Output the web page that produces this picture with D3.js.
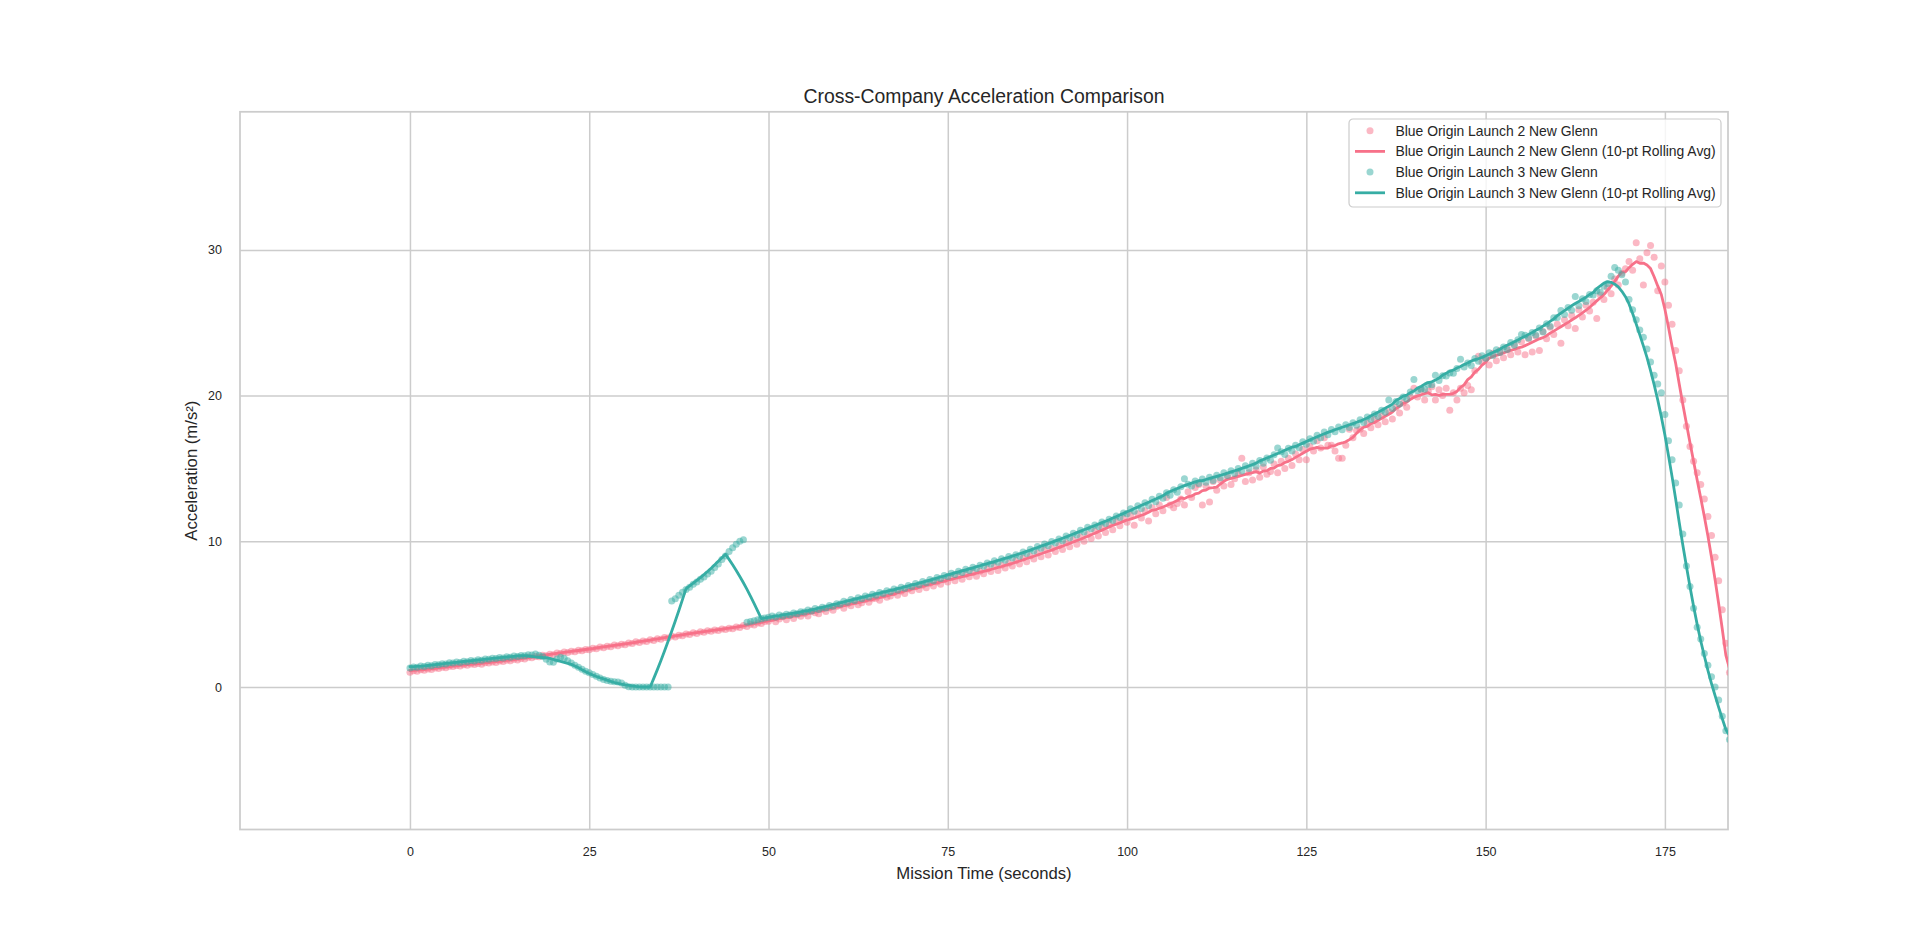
<!DOCTYPE html>
<html>
<head>
<meta charset="utf-8">
<script src="https://cdn.jsdelivr.net/npm/d3@7"></script>
<style>
  body { margin: 0; background: #fff; }
  svg text { font-family: "Liberation Sans", Arial, sans-serif; fill: #262626; }
</style>
</head>
<body>
<svg id="chart"></svg>
<script>
// both telemetry feeds are sampled every half second, starting at t = 0
const sampleStep = 0.5;

// Blue Origin Launch 2 New Glenn, acceleration (m/s²)
const launch2Accel = [
  1.02, 1.12, 1.08, 1.18, 1.15, 1.24, 1.20, 1.30, 1.27, 1.35,
  1.33, 1.42, 1.40, 1.47, 1.44, 1.52, 1.49, 1.58, 1.55, 1.62,
  1.57, 1.66, 1.64, 1.72, 1.69, 1.78, 1.75, 1.84, 1.80, 1.90,
  1.86, 1.95, 1.93, 2.04, 2.00, 2.10, 2.07, 2.18, 2.14, 2.25,
  2.22, 2.33, 2.30, 2.40, 2.36, 2.46, 2.42, 2.52, 2.49, 2.58,
  2.55, 2.66, 2.62, 2.74, 2.70, 2.80, 2.76, 2.88, 2.84, 2.94,
  2.90, 3.02, 2.98, 3.10, 3.05, 3.16, 3.12, 3.25, 3.20, 3.32,
  3.28, 3.40, 3.36, 3.50, 3.44, 3.56, 3.52, 3.64, 3.60, 3.72,
  3.68, 3.80, 3.76, 3.86, 3.82, 3.92, 3.88, 3.98, 3.95, 4.04,
  4.00, 4.12, 4.08, 4.22, 4.16, 4.30, 4.26, 4.40, 4.36, 4.50,
  4.52, 4.70, 4.48, 4.66, 4.82, 4.62, 4.90, 4.70, 4.96, 4.86,
  5.04, 4.88, 5.20, 5.10, 5.02, 5.34, 5.18, 5.44, 5.26, 5.52,
  5.62, 5.40, 5.70, 5.58, 5.86, 5.64, 5.78, 6.00, 5.82, 6.06,
  6.10, 5.96, 6.30, 6.16, 6.24, 6.48, 6.30, 6.58, 6.42, 6.72,
  6.60, 6.88, 6.70, 6.98, 6.82, 7.12, 6.94, 7.20, 7.06, 7.36,
  7.20, 7.52, 7.30, 7.62, 7.40, 7.74, 7.56, 7.86, 7.60, 7.94,
  7.78, 8.10, 7.92, 8.28, 8.00, 8.36, 8.16, 8.50, 8.30, 8.66,
  8.44, 8.86, 8.60, 9.00, 8.78, 9.20, 8.94, 9.40, 9.06, 9.50,
  9.30, 9.70, 9.44, 9.90, 9.62, 10.10, 9.80, 10.30, 10.00, 10.46,
  10.20, 10.70, 10.36, 10.96, 10.60, 11.16, 10.80, 11.40, 11.06, 11.56,
  11.30, 11.80, 11.10, 11.90, 11.60, 12.10, 11.40, 12.30, 11.90, 12.50,
  12.10, 13.00, 12.50, 12.30, 12.60, 12.90, 12.50, 13.40, 13.00, 13.70,
  13.90, 12.50, 13.80, 12.70, 14.10, 13.50, 14.20, 13.80, 14.40, 13.90,
  14.30, 14.60, 15.70, 14.10, 14.70, 14.20, 14.90, 14.40, 15.10, 14.60,
  14.80, 15.30, 14.70, 15.50, 15.00, 15.70, 15.20, 16.00, 15.60, 16.30,
  15.60, 16.50, 16.20, 16.90, 16.40, 17.10, 16.60, 16.60, 16.20, 15.70,
  15.70, 16.60, 17.70, 17.10, 17.60, 17.70, 17.40, 18.10, 17.80, 18.40,
  18.00, 18.60, 18.20, 18.90, 18.40, 19.20, 18.80, 19.50, 19.20, 19.90,
  20.50, 19.90, 20.40, 19.70, 20.30, 20.60, 19.70, 20.40, 20.00, 20.50,
  19.00, 20.20, 19.70, 20.50, 20.20, 20.70, 20.40, 21.70, 22.70, 22.30,
  22.60, 22.10, 22.90, 22.40, 23.10, 22.60, 23.30, 22.80, 23.50, 23.00,
  23.70, 22.80, 23.90, 23.00, 24.10, 23.10, 24.40, 23.90, 24.70, 24.20,
  24.90, 23.60, 25.20, 24.80, 25.50, 24.60, 25.90, 25.40, 26.20, 25.80,
  26.40, 25.30, 26.90, 26.60, 27.40, 27.00, 28.00, 27.60, 28.40, 28.70,
  29.20, 28.60, 30.50, 29.40, 27.60, 29.80, 30.30, 29.50, 27.20, 28.90,
  27.80, 26.20, 24.90, 23.10, 21.70, 19.70, 17.90, 16.50, 15.50, 14.70,
  13.90, 12.90, 11.70, 10.40, 8.90, 7.30, 5.30, 3.00, 1.00, -0.80,
  -2.60, -4.40, -6.20
];

// Blue Origin Launch 3 New Glenn, acceleration (m/s²)
const launch3Accel = [
  1.30, 1.38, 1.35, 1.44, 1.40, 1.50, 1.46, 1.54, 1.52, 1.60,
  1.58, 1.66, 1.64, 1.72, 1.69, 1.76, 1.73, 1.82, 1.78, 1.87,
  1.84, 1.92, 1.90, 1.98, 1.95, 2.02, 1.99, 2.08, 2.05, 2.12,
  2.10, 2.16, 2.14, 2.22, 2.20, 2.26, 2.18, 2.10, 1.90, 1.72,
  1.70, 1.92, 2.04, 1.98, 1.80, 1.64, 1.50, 1.36, 1.22, 1.08,
  0.98, 0.86, 0.74, 0.62, 0.52, 0.44, 0.40, 0.36, 0.34, 0.28,
  0.12, 0.02, 0.00, 0.00, 0.00, 0.00, 0.00, 0.00, 0.00, 0.00,
  0.00, 0.00, 0.00, 5.90, 6.05, 6.30, 6.50, 6.70, 6.85, 7.05,
  7.20, 7.40, 7.55, 7.75, 7.95, 8.20, 8.45, 8.75, 9.00, 9.30,
  9.55, 9.80, 10.00, 10.10, 4.45, 4.50, 4.55, 4.62, 4.68, 4.74,
  4.78, 4.88, 4.80, 4.94, 4.88, 5.00, 4.94, 5.08, 5.02, 5.16,
  5.14, 5.28, 5.22, 5.38, 5.32, 5.48, 5.42, 5.60, 5.54, 5.72,
  5.70, 5.88, 5.82, 6.00, 5.94, 6.12, 6.06, 6.24, 6.18, 6.36,
  6.30, 6.48, 6.42, 6.60, 6.54, 6.72, 6.66, 6.84, 6.78, 6.96,
  6.90, 7.10, 7.02, 7.24, 7.16, 7.38, 7.30, 7.52, 7.44, 7.66,
  7.58, 7.80, 7.72, 7.94, 7.86, 8.08, 8.00, 8.22, 8.14, 8.36,
  8.28, 8.52, 8.42, 8.66, 8.56, 8.80, 8.70, 8.96, 8.86, 9.08,
  8.98, 9.26, 9.16, 9.46, 9.34, 9.64, 9.52, 9.82, 9.70, 9.98,
  9.88, 10.16, 10.04, 10.36, 10.24, 10.56, 10.44, 10.76, 10.64, 10.96,
  10.86, 11.12, 11.02, 11.32, 11.22, 11.52, 11.42, 11.74, 11.64, 11.94,
  11.90, 12.24, 12.06, 12.44, 12.26, 12.64, 12.46, 12.88, 12.72, 13.10,
  12.96, 13.34, 13.16, 13.54, 13.36, 13.74, 14.30, 13.92, 13.80, 14.14,
  13.96, 14.28, 14.06, 14.40, 14.18, 14.54, 14.36, 14.70, 14.52, 14.84,
  14.66, 15.00, 14.82, 15.18, 15.00, 15.36, 15.16, 15.54, 15.36, 15.72,
  15.56, 15.94, 16.40, 16.14, 15.96, 16.38, 16.20, 16.60, 16.42, 16.84,
  16.66, 17.04, 16.86, 17.28, 17.10, 17.50, 17.32, 17.68, 17.52, 17.84,
  17.66, 18.00, 17.82, 18.14, 17.96, 18.34, 18.16, 18.54, 18.36, 18.74,
  18.56, 19.00, 18.86, 19.70, 19.12, 19.60, 19.42, 19.90, 19.76, 20.24,
  21.10, 20.34, 20.46, 20.44, 20.76, 20.74, 21.40, 21.04, 21.36, 21.34,
  21.56, 21.54, 21.86, 22.50, 21.96, 22.24, 22.06, 22.54, 22.36, 22.74,
  22.56, 22.94, 22.76, 23.14, 22.96, 23.34, 23.16, 23.64, 23.46, 23.84,
  24.20, 24.14, 23.96, 24.34, 24.16, 24.64, 24.36, 24.94, 24.76, 25.34,
  25.36, 25.84, 25.56, 26.04, 25.86, 26.80, 26.16, 26.64, 26.46, 26.94,
  26.90, 27.20, 27.10, 27.50, 27.70, 28.20, 28.80, 28.60, 28.30, 27.80,
  26.60, 25.90, 25.20, 24.50, 24.00, 23.20, 22.30, 21.40, 20.80, 20.20,
  18.70, 16.90, 15.60, 14.00, 12.50, 10.50, 8.30, 6.90, 5.40, 4.10,
  3.30, 2.30, 1.50, 0.70, 0.00, -0.90, -2.00, -3.00, -3.60, -4.20,
  -4.80, -5.40, -6.00
];

const seriesNames = ["Blue Origin Launch 2 New Glenn", "Blue Origin Launch 3 New Glenn"];
const seriesColors = ["#f77189", "#36ada4"];
const rollingWindow = 10;

const xTicks = [0, 25, 50, 75, 100, 125, 150, 175];
const yTicks = [0, 10, 20, 30];
const xLimits = [-23.7, 183.8];
const yLimits = [-9.78, 39.48];

const width = 1920, height = 932;
const plot = { left: 240, right: 1728, top: 111.8, bottom: 829.5 };

// centred rolling mean, partial windows allowed at the ends
const rollingMean = (values, size) => values.map((d, i) => {
  const lo = Math.max(0, i - Math.floor((size - 1) / 2));
  const hi = Math.min(values.length, i + Math.ceil((size + 1) / 2));
  return d3.mean(values.slice(lo, hi));
});

const series = [launch2Accel, launch3Accel].map((values, k) => ({
  name: seriesNames[k],
  color: seriesColors[k],
  points: values.map((v, i) => ({ t: i * sampleStep, v })),
  smooth: rollingMean(values, rollingWindow).map((v, i) => ({ t: i * sampleStep, v }))
}));

const svg = d3.select("#chart")
  .attr("width", width)
  .attr("height", height);

const x = d3.scaleLinear().domain(xLimits).range([plot.left, plot.right]);
const y = d3.scaleLinear().domain(yLimits).range([plot.bottom, plot.top]);
const plotW = plot.right - plot.left, plotH = plot.bottom - plot.top;

svg.append("defs").append("clipPath")
    .attr("id", "plot-clip")
  .append("rect")
    .attr("x", plot.left)
    .attr("y", plot.top)
    .attr("width", plotW)
    .attr("height", plotH);

// grid + tick labels
const xAxis = svg.append("g")
  .attr("transform", `translate(0,${plot.bottom})`)
  .call(d3.axisBottom(x).tickValues(xTicks).tickFormat(d3.format("d")).tickSize(-plotH).tickPadding(18));
const yAxis = svg.append("g")
  .attr("transform", `translate(${plot.left},0)`)
  .call(d3.axisLeft(y).tickValues(yTicks).tickFormat(d3.format("d")).tickSize(-plotW).tickPadding(18));

[xAxis, yAxis].forEach(ax => {
  ax.select(".domain").remove();
  ax.selectAll(".tick line")
    .attr("stroke", "#cccccc")
    .attr("stroke-width", 1.5);
  ax.selectAll(".tick text")
    .attr("font-size", 12.5)
    .attr("fill", "#262626");
});

// frame
svg.append("rect")
  .attr("x", plot.left)
  .attr("y", plot.top)
  .attr("width", plotW)
  .attr("height", plotH)
  .attr("fill", "none")
  .attr("stroke", "#cccccc")
  .attr("stroke-width", 1.75);

const line = d3.line()
  .x(d => x(d.t))
  .y(d => y(d.v));

const marks = svg.append("g").attr("clip-path", "url(#plot-clip)");

series.forEach(s => {
  marks.append("g")
    .selectAll("circle")
    .data(s.points)
    .join("circle")
      .attr("cx", d => x(d.t))
      .attr("cy", d => y(d.v))
      .attr("r", 3.5)
      .attr("fill", s.color)
      .attr("fill-opacity", 0.5);

  marks.append("path")
    .datum(s.smooth)
    .attr("d", line)
    .attr("fill", "none")
    .attr("stroke", s.color)
    .attr("stroke-width", 2.8)
    .attr("stroke-linejoin", "round")
    .attr("stroke-linecap", "round");
});

// titles
svg.append("text")
  .attr("x", (plot.left + plot.right) / 2)
  .attr("y", 103.3)
  .attr("text-anchor", "middle")
  .attr("font-size", 19.4)
  .text("Cross-Company Acceleration Comparison");

svg.append("text")
  .attr("x", (plot.left + plot.right) / 2)
  .attr("y", 879)
  .attr("text-anchor", "middle")
  .attr("font-size", 16.7)
  .text("Mission Time (seconds)");

svg.append("text")
  .attr("transform", `translate(197,${(plot.top + plot.bottom) / 2}) rotate(-90)`)
  .attr("text-anchor", "middle")
  .attr("font-size", 16.7)
  .text("Acceleration (m/s²)");

// legend
const legendItems = [];
series.forEach(s => {
  legendItems.push({ label: s.name, color: s.color, kind: "dot" });
  legendItems.push({ label: `${s.name} (${rollingWindow}-pt Rolling Avg)`, color: s.color, kind: "line" });
});

const legend = svg.append("g").attr("transform", "translate(1349,119)");
legend.append("rect")
  .attr("width", 372)
  .attr("height", 88)
  .attr("rx", 4)
  .attr("fill", "#ffffff")
  .attr("fill-opacity", 0.8)
  .attr("stroke", "#cccccc")
  .attr("stroke-width", 1.2);

const rows = legend.selectAll("g.item")
  .data(legendItems)
  .join("g")
    .attr("class", "item")
    .attr("transform", (d, i) => `translate(0,${11.7 + i * 20.7})`);

rows.filter(d => d.kind === "dot").append("circle")
  .attr("cx", 21)
  .attr("cy", 0)
  .attr("r", 3.5)
  .attr("fill", d => d.color)
  .attr("fill-opacity", 0.5);

rows.filter(d => d.kind === "line").append("line")
  .attr("x1", 6)
  .attr("x2", 36)
  .attr("stroke", d => d.color)
  .attr("stroke-width", 2.8);

rows.append("text")
  .attr("x", 46.5)
  .attr("dy", "0.35em")
  .attr("font-size", 13.9)
  .text(d => d.label);
</script>
</body>
</html>
